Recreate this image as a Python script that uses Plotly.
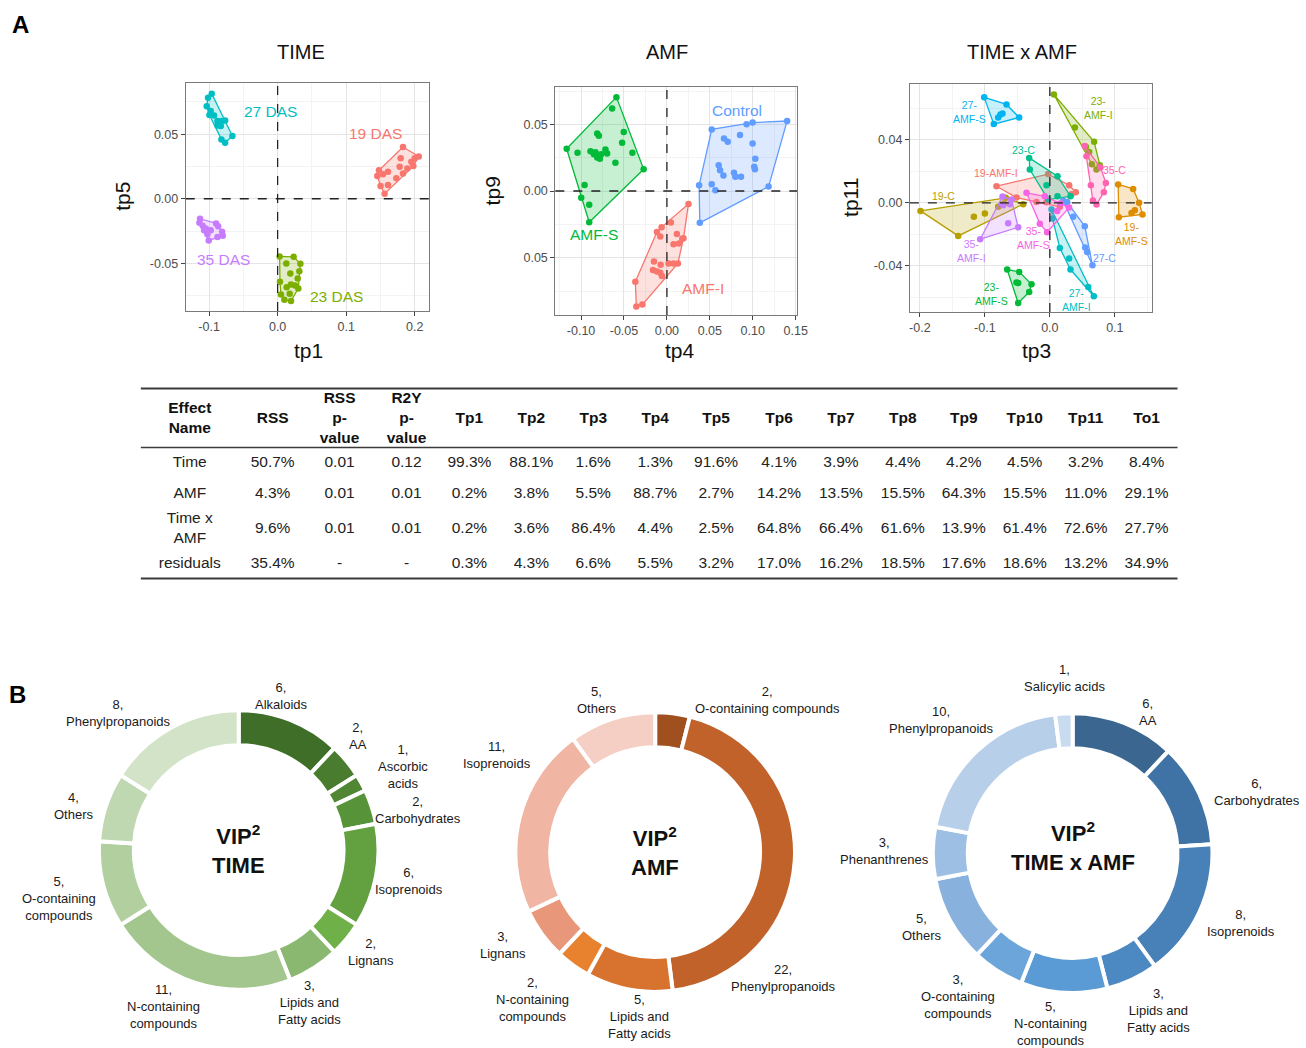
import plotly.graph_objects as go

W, H = 1306, 1048
FONT = "Liberation Sans, Arial, Helvetica, sans-serif"
XSCALE = 1.008  # small horizontal stretch of the pixel grid used for placement


def px(x):
    return x * XSCALE / W


def py(y):
    return 1 - y / H


# ---------------- Panel A data: OPLS score coordinates ----------------
# TIME effect (tp1 vs tp5)
das19 = [(0.1829, 0.0401), (0.1795, 0.0313), (0.1780, 0.0248), (0.1893, 0.0235), (0.2000, 0.0313),
         (0.2059, 0.0328), (0.1980, 0.0253), (0.1951, 0.0287), (0.1829, 0.0196), (0.1732, 0.0158),
         (0.1610, 0.0209), (0.1478, 0.0220), (0.1454, 0.0176), (0.1502, 0.0098), (0.1610, 0.0106),
         (0.1561, 0.0039), (0.1537, 0.0189)]
das23 = [(0.0029, -0.0447), (0.0127, -0.0501), (0.0234, -0.0450), (0.0332, -0.0504), (0.0317, -0.0561),
         (0.0185, -0.0579), (0.0034, -0.0643), (0.0132, -0.0685), (0.0195, -0.0664), (0.0254, -0.0672),
         (0.0302, -0.0695), (0.0176, -0.0736), (0.0098, -0.0783), (0.0195, -0.0793), (0.0049, -0.0742),
         (0.0293, -0.0618)]
das27 = [(-0.1015, 0.0783), (-0.0961, 0.0814), (-0.1034, 0.0716), (-0.0995, 0.0649), (-0.0927, 0.0646),
         (-0.0878, 0.0602), (-0.0820, 0.0602), (-0.0766, 0.0607), (-0.0829, 0.0563), (-0.0878, 0.0568),
         (-0.0659, 0.0486), (-0.0766, 0.0434), (-0.0820, 0.0460), (-0.0976, 0.0680)]
das35 = [(-0.1132, -0.0155), (-0.1141, -0.0186), (-0.1093, -0.0209), (-0.1049, -0.0230), (-0.0976, -0.0245),
         (-0.0898, -0.0191), (-0.0868, -0.0214), (-0.0810, -0.0256), (-0.0800, -0.0287), (-0.0878, -0.0297),
         (-0.1005, -0.0323), (-0.1024, -0.0276), (-0.1073, -0.0245)]
time_groups = ["19 DAS", "23 DAS", "27 DAS", "35 DAS"]
time_colors = ["#F8766D", "#7CAE00", "#00BFC4", "#C77CFF"]

# AMF effect (tp4 vs tp9)
amf_control = [(0.0522, 0.0462), (0.0928, 0.0500), (0.0998, 0.0513), (0.1400, 0.0525), (0.0851, 0.0420),
               (0.0665, 0.0394), (0.0708, 0.0369), (0.0998, 0.0357), (0.1029, 0.0241), (0.1017, 0.0181),
               (0.1025, 0.0163), (0.0603, 0.0193), (0.0619, 0.0156), (0.0658, 0.0116), (0.0781, 0.0136),
               (0.0797, 0.0106), (0.0863, 0.0106), (0.0375, 0.0043), (0.0522, 0.0050), (0.0565, 0.0005),
               (0.1184, 0.0033), (0.0383, -0.0239)]
amf_i = [(0.0251, -0.0098), (0.0046, -0.0236), (-0.0062, -0.0271), (-0.0116, -0.0307), (-0.0077, -0.0342),
         (0.0077, -0.0399), (0.0139, -0.0394), (0.0178, -0.0359), (0.0193, -0.0354), (0.0116, -0.0322),
         (-0.0151, -0.0528), (-0.0162, -0.0593), (-0.0116, -0.0603), (-0.0077, -0.0613), (-0.0058, -0.0638),
         (-0.0073, -0.0553), (0.0019, -0.0543), (0.0077, -0.0543), (0.0128, -0.0543), (-0.0368, -0.0681),
         (-0.0356, -0.0867), (-0.0286, -0.0852)]
amf_s = [(-0.0588, 0.0704), (-0.0638, 0.0618), (-0.1168, 0.0317), (-0.1041, 0.0286), (-0.0890, 0.0299),
         (-0.0832, 0.0291), (-0.0812, 0.0251), (-0.0781, 0.0241), (-0.0766, 0.0276), (-0.0716, 0.0312),
         (-0.0696, 0.0281), (-0.0812, 0.0432), (-0.0793, 0.0415), (-0.0503, 0.0442), (-0.0522, 0.0362),
         (-0.0402, 0.0286), (-0.0271, 0.0163), (-0.0600, 0.0211), (-0.0959, 0.0045), (-0.0998, -0.0050),
         (-0.0905, -0.0103), (-0.0905, -0.0234), (-0.0851, 0.0276)]
amf_groups = ["Control", "AMF-I", "AMF-S"]
amf_colors = ["#619CFF", "#F8766D", "#00BA38"]

# TIME x AMF interaction (tp3 vs tp11)
g19_amfi = [(-0.0821, 0.0106), (-0.0026, 0.0183), (0.0297, 0.0112), (0.0400, 0.0068), (0.0333, 0.0055),
            (0.0154, -0.0025), (-0.0051, 0.0004), (-0.0205, 0.0006), (-0.0513, 0.0034)]
g19_amfs = [(0.1051, 0.0117), (0.1282, 0.0089), (0.1374, 0.0000), (0.1426, -0.0074), (0.1256, -0.0064),
            (0.1062, -0.0091), (0.1308, -0.0047)]
g19_c = [(-0.1990, -0.0051), (-0.1410, -0.0210), (-0.1169, -0.0089), (-0.1000, -0.0068), (-0.0708, -0.0004),
         (-0.0410, -0.0008), (-0.0677, 0.0032), (-0.0795, -0.0025)]
g23_amfi = [(0.0062, 0.0690), (0.0385, 0.0480), (0.0682, 0.0388), (0.0554, 0.0357), (0.0605, 0.0323),
            (0.0646, 0.0246), (0.0718, 0.0212), (0.0769, 0.0240)]
g23_amfs = [(-0.0656, -0.0424), (-0.0472, -0.0439), (-0.0282, -0.0518), (-0.0318, -0.0567), (-0.0487, -0.0637),
            (-0.0487, -0.0509), (-0.0513, -0.0507)]
g23_c = [(-0.0318, 0.0286), (-0.0308, 0.0212), (0.0118, 0.0170), (0.0318, 0.0042), (0.0118, 0.0042),
         (-0.0026, 0.0021), (-0.0051, 0.0112)]
g27_amfi = [(0.0026, -0.0042), (0.0154, -0.0287), (0.0297, -0.0354), (0.0318, -0.0424), (0.0590, -0.0535),
            (0.0677, -0.0594), (0.0041, -0.0100)]
g27_amfs = [(-0.1010, 0.0671), (-0.0667, 0.0626), (-0.0472, 0.0543), (-0.0862, 0.0501), (-0.0759, 0.0562),
            (-0.0728, 0.0569), (-0.0795, 0.0543)]
g27_c = [(0.0205, 0.0013), (0.0267, 0.0004), (0.0538, -0.0149), (0.0544, -0.0284), (0.0656, -0.0397),
         (0.0574, -0.0312), (0.0359, -0.0089)]
g35_amfi = [(-0.0728, 0.0040), (-0.0590, 0.0021), (-0.1072, -0.0231), (-0.0641, -0.0129), (-0.0487, -0.0155),
            (-0.0615, -0.0008), (-0.0718, -0.0015)]
g35_amfs = [(-0.0359, 0.0064), (-0.0077, 0.0042), (0.0164, -0.0004), (0.0297, -0.0030), (0.0113, -0.0051),
            (-0.0041, -0.0187), (-0.0154, -0.0132)]
g35_c = [(0.0538, 0.0361), (0.0779, 0.0225), (0.0862, 0.0127), (0.0831, 0.0068), (0.0718, -0.0011),
         (0.0662, 0.0015), (0.0631, 0.0112), (0.0564, 0.0297)]
inter_groups = ["19-AMF-I", "19-AMF-S", "19-C", "23-AMF-I", "23-AMF-S", "23-C",
                "27-AMF-I", "27-AMF-S", "27-C", "35-AMF-I", "35-AMF-S", "35-C"]
inter_colors = ["#F8766D", "#DE8C00", "#B79F00", "#7CAE00", "#00BA38", "#00C08B",
                "#00BFC4", "#00B4F0", "#619CFF", "#C77CFF", "#F564E3", "#FF64B0"]

# ---------------- Panel A table: variance decomposition ----------------
table_header = ["Effect<br>Name", "RSS", "RSS<br>p-<br>value", "R2Y<br>p-<br>value",
                "Tp1", "Tp2", "Tp3", "Tp4", "Tp5", "Tp6", "Tp7", "Tp8", "Tp9", "Tp10", "Tp11", "To1"]
effect_names = ["Time", "AMF", "Time x<br>AMF", "residuals"]
rss = [50.7, 4.3, 9.6, 35.4]
rss_pvalue = ["0.01", "0.01", "0.01", "-"]
r2y_pvalue = ["0.12", "0.01", "0.01", "-"]
tp1 = [99.3, 0.2, 0.2, 0.3]
tp2 = [88.1, 3.8, 3.6, 4.3]
tp3 = [1.6, 5.5, 86.4, 6.6]
tp4 = [1.3, 88.7, 4.4, 5.5]
tp5 = [91.6, 2.7, 2.5, 3.2]
tp6 = [4.1, 14.2, 64.8, 17.0]
tp7 = [3.9, 13.5, 66.4, 16.2]
tp8 = [4.4, 15.5, 61.6, 18.5]
tp9 = [4.2, 64.3, 13.9, 17.6]
tp10 = [4.5, 15.5, 61.4, 18.6]
tp11 = [3.2, 11.0, 72.6, 13.2]
to1 = [8.4, 29.1, 27.7, 34.9]

# ---------------- Panel B data: VIP² compound classes ----------------
vip_time_labels = ["Alkaloids", "AA", "Ascorbic<br>acids", "Carbohydrates", "Isoprenoids", "Lignans",
                   "Lipids and<br>Fatty acids", "N-containing<br>compounds", "O-containing<br>compounds",
                   "Others", "Phenylpropanoids"]
vip_time_counts = [6, 2, 1, 2, 6, 2, 3, 11, 5, 4, 8]

vip_amf_labels = ["O-containing compounds", "Phenylpropanoids", "Lipids and<br>Fatty acids",
                  "N-containing<br>compounds", "Lignans", "Isoprenoids", "Others"]
vip_amf_counts = [2, 22, 5, 2, 3, 11, 5]

vip_inter_labels = ["AA", "Carbohydrates", "Isoprenoids", "Lipids and<br>Fatty acids",
                    "N-containing<br>compounds", "O-containing<br>compounds", "Others", "Phenanthrenes",
                    "Phenylpropanoids", "Salicylic acids"]
vip_inter_counts = [6, 6, 8, 3, 5, 3, 5, 3, 10, 1]

# ---------------- styling ----------------
time_pie_colors = ["#3f6e28", "#4a7c30", "#508634", "#579439", "#62a040", "#6fb048",
                   "#8ab870", "#a3c68e", "#b1cf9f", "#c0d8b1", "#d3e3c7"]
amf_pie_colors = ["#a0501e", "#c0622a", "#d7722f", "#e8822f", "#e8977a", "#f0b6a3", "#f5cec4"]
inter_pie_colors = ["#3a6690", "#3f73a6", "#4880b8", "#4c89c2", "#5a9ad5", "#6ca5da",
                    "#88b2dd", "#9dbfe3", "#b8cfea", "#c9dbef"]

time_label_pos = [(281, 696), (357, 736), (403, 766), (418, 810), (409, 881), (370, 952),
                  (309, 1002), (163, 1006), (58, 898), (73, 806), (118, 713)]
amf_label_pos = [(767, 700), (783, 978), (639, 1016), (532, 999), (503, 945), (497, 755), (597, 700)]
inter_label_pos = [(1148, 712), (1258, 792), (1242, 923), (1159, 1010), (1051, 1023), (958, 996),
                   (922, 927), (885, 851), (942, 720), (1065, 678)]

# table geometry (pixel units on a hidden helper axis)
col_centers = [189, 272, 339, 406, 469, 531, 593, 655, 716, 779, 841, 903, 964, 1025, 1086, 1147]
header_y = 419
row_y = [463, 494, 529, 564]
tbl_x0, tbl_x1, tbl_top, tbl_hdr, tbl_bot = 140, 1178, 388.5, 447.5, 578.5


def convex_hull(points):
    pts = sorted(set(points))
    if len(pts) <= 2:
        return pts

    def cross(o, a, b):
        return (a[0] - o[0]) * (b[1] - o[1]) - (a[1] - o[1]) * (b[0] - o[0])

    lower, upper = [], []
    for p in pts:
        while len(lower) >= 2 and cross(lower[-2], lower[-1], p) <= 0:
            lower.pop()
        lower.append(p)
    for p in reversed(pts):
        while len(upper) >= 2 and cross(upper[-2], upper[-1], p) <= 0:
            upper.pop()
        upper.append(p)
    return lower[:-1] + upper[:-1]


def rgba(hex_color, a):
    h = hex_color.lstrip("#")
    r, g, b = int(h[0:2], 16), int(h[2:4], 16), int(h[4:6], 16)
    return f"rgba({r},{g},{b},{a})"


fig = go.Figure()


def add_score_groups(groups, names, colors, xa, ya):
    for pts, name, col in zip(groups, names, colors):
        hull = convex_hull(pts)
        hull = hull + [hull[0]]
        fig.add_trace(go.Scatter(
            x=[p[0] for p in hull], y=[p[1] for p in hull], mode="lines", fill="toself",
            fillcolor=rgba(col, 0.22), line=dict(color=col, width=1.3),
            xaxis=xa, yaxis=ya, showlegend=False, hoverinfo="skip"))
        fig.add_trace(go.Scatter(
            x=[p[0] for p in pts], y=[p[1] for p in pts], mode="markers", name=name,
            marker=dict(color=col, size=6.5), xaxis=xa, yaxis=ya, showlegend=False))


add_score_groups([das19, das23, das27, das35], time_groups, time_colors, "x", "y")
add_score_groups([amf_control, amf_i, amf_s], amf_groups, amf_colors, "x2", "y2")
add_score_groups([g19_amfi, g19_amfs, g19_c, g23_amfi, g23_amfs, g23_c,
                  g27_amfi, g27_amfs, g27_c, g35_amfi, g35_amfs, g35_c],
                 inter_groups, inter_colors, "x3", "y3")

# ---------------- table (text cells on a hidden axis pair) ----------------
pct = lambda vals: [f"{v:.1f}%" for v in vals]
table_cols = [effect_names, pct(rss), rss_pvalue, r2y_pvalue] + [
    pct(c) for c in (tp1, tp2, tp3, tp4, tp5, tp6, tp7, tp8, tp9, tp10, tp11, to1)]

fig.add_trace(go.Scatter(
    x=col_centers, y=[header_y] * len(col_centers), mode="text",
    text=[f"<b>{h}</b>" for h in table_header], textposition="middle center",
    textfont=dict(family=FONT, size=15.5, color="#111"),
    xaxis="x4", yaxis="y4", showlegend=False, hoverinfo="skip", cliponaxis=False))
cell_x, cell_y, cell_t = [], [], []
for cx, col in zip(col_centers, table_cols):
    for ry, val in zip(row_y, col):
        cell_x.append(cx)
        cell_y.append(ry)
        cell_t.append(val)
fig.add_trace(go.Scatter(
    x=cell_x, y=cell_y, mode="text", text=cell_t, textposition="middle center",
    textfont=dict(family=FONT, size=15.5, color="#222"),
    xaxis="x4", yaxis="y4", showlegend=False, hoverinfo="skip", cliponaxis=False))

# ---------------- donut charts ----------------
def add_donut(labels, counts, colors, cx, cy, r=140):
    fig.add_trace(go.Pie(
        labels=labels, values=counts, sort=False, direction="clockwise", rotation=0,
        hole=0.75, textinfo="none", showlegend=False,
        marker=dict(colors=colors, line=dict(color="white", width=4)),
        domain=dict(x=[px(cx - r), px(cx + r)], y=[py(cy + r), py(cy - r)])))


add_donut(vip_time_labels, vip_time_counts, time_pie_colors, 238, 850)
add_donut(vip_amf_labels, vip_amf_counts, amf_pie_colors, 655, 852)
add_donut(vip_inter_labels, vip_inter_counts, inter_pie_colors, 1073, 853)

annotations = []


def text(x, y, s, size, color="#111", bold=False, angle=0, xref="paper", yref="paper", xanchor="center"):
    if bold:
        s = f"<b>{s}</b>"
    annotations.append(dict(x=x, y=y, xref=xref, yref=yref, text=s, showarrow=False,
                            font=dict(family=FONT, size=size, color=color), textangle=angle,
                            xanchor=xanchor, yanchor="middle", align="center"))


for labels, counts, positions in ((vip_time_labels, vip_time_counts, time_label_pos),
                                  (vip_amf_labels, vip_amf_counts, amf_label_pos),
                                  (vip_inter_labels, vip_inter_counts, inter_label_pos)):
    for lab, cnt, (lx, ly) in zip(labels, counts, positions):
        text(px(lx), py(ly), f"{cnt},<br>{lab}", 13, "#1a1a1a")

text(px(238), py(849), "VIP<sup>2</sup><br>TIME", 22, "#111", bold=True)
text(px(655), py(851), "VIP<sup>2</sup><br>AMF", 22, "#111", bold=True)
text(px(1073), py(846), "VIP<sup>2</sup><br>TIME x AMF", 22, "#111", bold=True)

# panel letters
text(px(20), py(24), "A", 24, "#000", bold=True)
text(px(17), py(694), "B", 24, "#000", bold=True)

# plot titles and axis titles
text(px(300), py(52), "TIME", 20, "#111")
text(px(667), py(52), "AMF", 20, "#111")
text(px(1022), py(52), "TIME x AMF", 20, "#111")
text(px(308), py(350), "tp1", 21, "#111")
text(px(680), py(350), "tp4", 21, "#111")
text(px(1037), py(350), "tp3", 21, "#111")
text(px(121), py(196), "tp5", 21, "#111", angle=-90)
text(px(492), py(191), "tp9", 21, "#111", angle=-90)
text(px(851), py(197), "tp11", 21, "#111", angle=-90)

# group labels inside the score plots
time_lbl_xy = [(0.1424, 0.0506), (0.0854, -0.0760), (-0.0098, 0.0680), (-0.0790, -0.0470)]
for (lx, ly), name, col in zip(time_lbl_xy, time_groups, time_colors):
    text(lx, ly, name, 15.5, col, xref="x", yref="y")
amf_lbl_xy = [(0.0820, 0.0603), (0.0418, -0.0731), (-0.0851, -0.0329)]
for (lx, ly), name, col in zip(amf_lbl_xy, amf_groups, amf_colors):
    text(lx, ly, name, 15.5, col, xref="x2", yref="y2")
inter_lbl_xy = [(-0.0821, 0.0187), (0.1256, -0.0195), (-0.1641, 0.0042), (0.0744, 0.0601),
                (-0.0897, -0.0577), (-0.0400, 0.0335), (0.0410, -0.0620), (-0.1231, 0.0579),
                (0.0846, -0.0350), (-0.1205, -0.0308), (-0.0256, -0.0223), (0.1000, 0.0212)]
inter_lbl_text = ["19-AMF-I", "19-<br>AMF-S", "19-C", "23-<br>AMF-I", "23-<br>AMF-S", "23-C",
                  "27-<br>AMF-I", "27-<br>AMF-S", "27-C", "35-<br>AMF-I", "35-<br>AMF-S", "35-C"]
for (lx, ly), name, col in zip(inter_lbl_xy, inter_lbl_text, inter_colors):
    text(lx, ly, name, 10.5, col, xref="x3", yref="y3")

# ---------------- shapes: zero lines and table rules ----------------
shapes = []
for xa, ya in (("x", "y"), ("x2", "y2"), ("x3", "y3")):
    shapes.append(dict(type="line", xref=xa, yref=f"{ya} domain", x0=0, x1=0, y0=0, y1=1,
                       line=dict(color="#222", width=1.3, dash="dash")))
    shapes.append(dict(type="line", xref=f"{xa} domain", yref=ya, x0=0, x1=1, y0=0, y1=0,
                       line=dict(color="#222", width=1.3, dash="dash")))
for yy, wdt in ((tbl_top, 2), (tbl_hdr, 1.5), (tbl_bot, 2)):
    shapes.append(dict(type="line", xref="paper", yref="paper", x0=px(tbl_x0), x1=px(tbl_x1),
                       y0=py(yy), y1=py(yy), line=dict(color="#3a3a3a", width=wdt)))


def axis_style(domain, rng, tickvals, ticktext, minor_vals, anchor):
    return dict(domain=domain, range=rng, anchor=anchor, tickmode="array", tickvals=tickvals,
                ticktext=ticktext, showgrid=True, gridcolor="#e4e4e4", gridwidth=1, zeroline=False,
                showline=True, mirror=True, linecolor="#7a7a7a", linewidth=1,
                ticks="outside", ticklen=4, tickcolor="#444", tickwidth=1,
                tickfont=dict(family=FONT, size=12.5, color="#4d4d4d"),
                minor=dict(tickmode="array", tickvals=minor_vals, showgrid=True,
                           gridcolor="#f3f3f3", gridwidth=1, ticks=""))


layout = dict(
    width=W, height=H, margin=dict(l=0, r=0, t=0, b=0),
    paper_bgcolor="white", plot_bgcolor="white", showlegend=False,
    font=dict(family=FONT, color="#111"),
    xaxis=axis_style([px(185), px(429)], [-0.134, 0.2215], [-0.1, 0.0, 0.1, 0.2],
                     ["-0.1", "0.0", "0.1", "0.2"], [-0.05, 0.05, 0.15], "y"),
    yaxis=axis_style([py(311), py(83)], [-0.087, 0.0897], [-0.05, 0.0, 0.05],
                     ["-0.05", "0.00", "0.05"], [-0.075, -0.025, 0.025, 0.075], "x"),
    xaxis2=axis_style([px(555), px(797)], [-0.130, 0.1515], [-0.10, -0.05, 0.0, 0.05, 0.10, 0.15],
                      ["-0.10", "-0.05", "0.00", "0.05", "0.10", "0.15"],
                      [-0.125, -0.075, -0.025, 0.025, 0.075, 0.125], "y2"),
    yaxis2=axis_style([py(315), py(87)], [-0.093, 0.078], [-0.05, 0.0, 0.05],
                      ["0.05", "0.00", "0.05"], [-0.075, -0.025, 0.025, 0.075], "x2"),
    xaxis3=axis_style([px(910), px(1152)], [-0.2154, 0.1565], [-0.2, -0.1, 0.0, 0.1],
                      ["-0.2", "-0.1", "0.0", "0.1"], [-0.15, -0.05, 0.05, 0.15], "y3"),
    yaxis3=axis_style([py(312), py(84)], [-0.0694, 0.0756], [-0.04, 0.0, 0.04],
                      ["-0.04", "0.00", "0.04"], [-0.06, -0.02, 0.02, 0.06], "x3"),
    xaxis4=dict(domain=[px(130), px(1190)], range=[130, 1190], anchor="y4", visible=False,
                fixedrange=True),
    yaxis4=dict(domain=[py(600), py(380)], range=[600, 380], anchor="x4", visible=False,
                fixedrange=True),
    annotations=annotations,
    shapes=shapes,
)
fig.update_layout(**layout)

fig.write_html("out.html")
